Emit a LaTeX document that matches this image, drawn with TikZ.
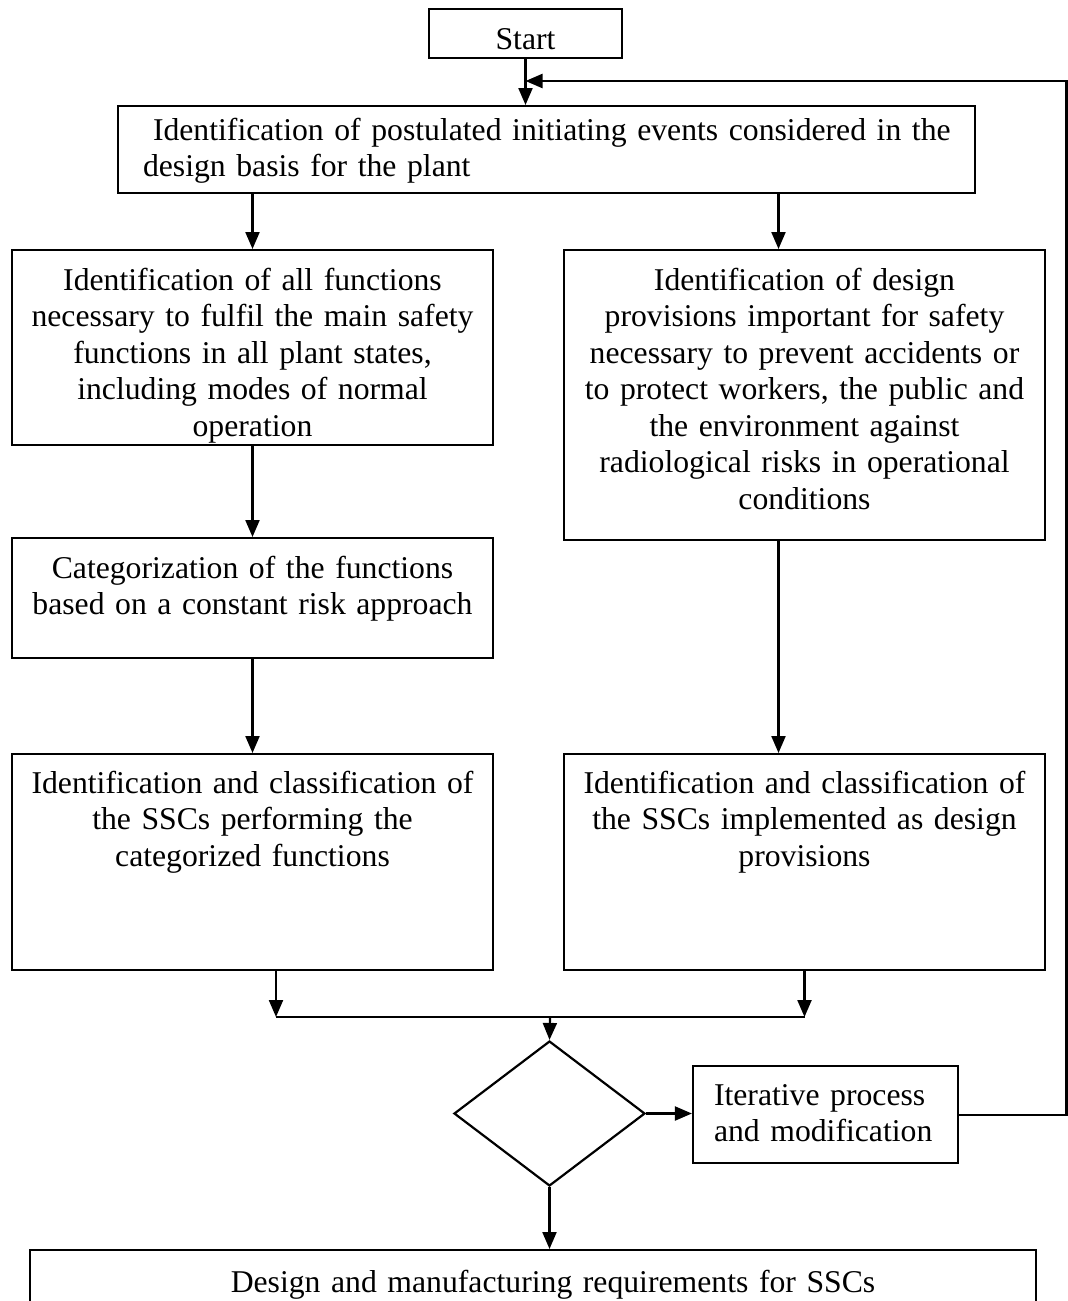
\documentclass[tikz,border=0pt]{standalone}
\usepackage{fontspec}
\setmainfont{Liberation Serif}
\usepackage{tikz}
\usetikzlibrary{arrows.meta, shapes.geometric}
\newcommand{\boxFont}{\fontsize{31.7}{36.5}\selectfont}

\begin{document}
\begin{tikzpicture}[x=1pt, y=-1pt,
		stepbox/.style={draw, line width=2.2pt, inner xsep=0pt, inner ysep=0pt, anchor=north, align=center, font=\boxFont},
		leftbox/.style={stepbox, align=left, inner xsep=#1},
		flow/.style={line width=2.2pt, -{Triangle[length=17pt, width=14pt]}},
		plain/.style={line width=2.2pt}]
	\useasboundingbox (0,0) rectangle (1068,1301);
	\clip (0,0) rectangle (1068,1301);

	\node[stepbox, text width=193pt, text height=40pt, text depth=9pt] (start) at (525.5,8) {Start};
	\node[leftbox=25pt, text width=807pt, text height=34pt, text depth=53pt] (events) at (546.5,105)
		{\hspace*{10pt}\mbox{Identification of postulated initiating events considered in the}\\ design basis for the plant};

	\node[stepbox, text width=481pt, text height=40pt, text depth=155pt] (fn) at (252.5,249)
		{Identification of all functions\\ necessary to fulfil the main safety\\ functions in all plant states,\\ including modes of normal\\ operation};
	\node[stepbox, text width=481pt, text height=40pt, text depth=250pt] (prov) at (804.5,249)
		{Identification of design\\ provisions important for safety\\ necessary to prevent accidents or\\ to protect workers, the public and\\ the environment against\\ radiological risks in operational\\ conditions};
	\node[stepbox, text width=481pt, text height=40pt, text depth=80pt] (cat) at (252.5,537)
		{Categorization of the functions\\ based on a constant risk approach};
	\node[stepbox, text width=481pt, text height=39pt, text depth=177pt] (sscfn) at (252.5,753)
		{Identification and classification of\\ the SSCs performing the\\ categorized functions};
	\node[stepbox, text width=481pt, text height=39pt, text depth=177pt] (sscprov) at (804.5,753)
		{Identification and classification of\\ the SSCs implemented as design\\ provisions};

	\coordinate (join) at (550,1017);
	\node[diamond, draw, line width=2.2pt, inner sep=0pt, minimum width=191pt, minimum height=145pt] (check) at (549.5,1113.5) {};
	\node[leftbox=21pt, text width=223pt, text height=39pt, text depth=58pt] (iter) at (825.5,1065)
		{Iterative process\\ and modification};
	\node[stepbox, text width=1006pt, text height=42pt, text depth=60pt] (req) at (533,1249)
		{\hspace*{40pt}Design and manufacturing requirements for SSCs};
	\coordinate (back) at (1066.5,81);

	\draw[flow] (start.south) -- (start.south |- events.north);
	\draw[flow] (fn.north |- events.south) -- (fn.north);
	\draw[flow] ([xshift=-26pt]prov.north |- events.south) -- ([xshift=-26pt]prov.north);
	\draw[flow] (fn.south) -- (cat.north);
	\draw[flow] (cat.south) -- (sscfn.north);
	\draw[flow] ([xshift=-26pt]prov.south) -- ([xshift=-26pt]prov.south |- sscprov.north);

	\draw[flow] ([xshift=23.5pt]sscfn.south) -- ([xshift=23.5pt]sscfn.south |- join);
	\draw[flow] (sscprov.south) -- (sscprov.south |- join);
	\draw[plain] ([xshift=23.5pt]sscfn.south |- join) -- (sscprov.south |- join);
	\draw[flow] (join) -- (check.north);

	\draw[flow] (check.east) -- (check.east -| iter.west);
	\draw[flow] (iter.east) -| (back) -- (back -| start.south);
	\draw[flow] (check.south) -- (check.south |- req.north);
\end{tikzpicture}
\end{document}
